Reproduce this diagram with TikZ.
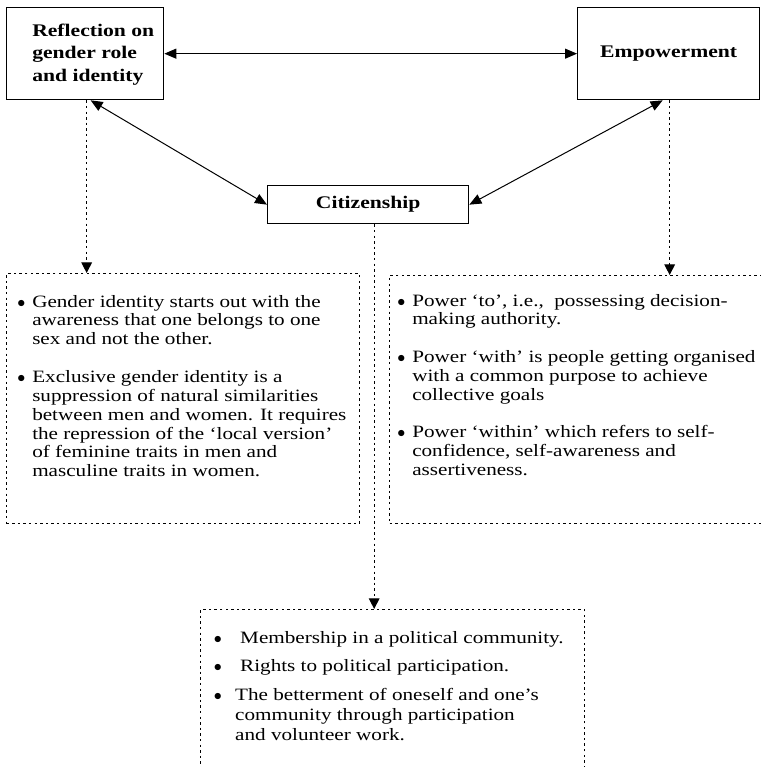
\documentclass[tikz,border=0pt]{standalone}
\usepackage{fontspec}
\setmainfont[FakeStretch=1.22]{Liberation Serif}
\usetikzlibrary{arrows.meta,calc}
\newcommand{\bul}{$\bullet$}
\begin{document}
\begin{tikzpicture}[x=0.75pt,y=-0.75pt,
  solidbox/.style={draw=black, line width=1pt, inner sep=0pt},
  dotbox/.style={draw=black, line width=0.85pt, dash pattern=on 1.8pt off 2.4pt, inner sep=0pt},
  arr/.style={line width=0.75pt, {Triangle[length=9pt,width=7.5pt]}-{Triangle[length=9pt,width=7.5pt]}},
  dotarr/.style={line width=0.85pt, dash pattern=on 1.8pt off 2.4pt, -{Triangle[length=8pt,width=8pt]}},
  title/.style={font=\fontsize{13.3}{16.5}\selectfont\bfseries, inner sep=0pt},
  body/.style={font=\fontsize{13}{14.2}\selectfont, inner sep=0pt, anchor=base west}
]
\useasboundingbox (0,0) rectangle (760,767);

% top boxes
\node[solidbox, minimum width=117.75pt, minimum height=69pt, anchor=north west] (refl) at (6,7) {};
\node[title, anchor=base west] (refltxt) at (32,37)
  {\begin{tabular}[t]{@{}l@{}}Reflection on\\gender role\\and identity\end{tabular}};
\node[solidbox, title, minimum width=136.5pt, minimum height=69pt, anchor=north west] (emp) at (577,7) {Empowerment};
\node[solidbox, title, minimum width=150.75pt, minimum height=28.5pt, anchor=north west] (cit) at (267,185) {Citizenship};

% dotted boxes
\node[dotbox, minimum width=264.75pt, minimum height=187.5pt, anchor=north west] (lbox) at (6,273) {};
\node[dotbox, minimum width=282pt, minimum height=186pt, anchor=north west] (rbox) at (389,275) {};
\node[dotbox, minimum width=288pt, minimum height=125pt, anchor=north west] (bbox) at (200,609) {};

% texts
\node[body] (ltxt) at (17,307)
 {\begin{tabular}[t]{@{}p{11.25pt}@{}l@{}}
  \bul & Gender identity starts out with the\\
   & awareness that one belongs to one\\
   & sex and not the other.\\[13.8pt]
  \bul & Exclusive gender identity is a\\
   & suppression of natural similarities\\
   & between men and women. It requires\\
   & the repression of the ‘local version’\\
   & of feminine traits in men and\\
   & masculine traits in women.
 \end{tabular}};

\node[body] (rtxt) at (397,306)
 {\begin{tabular}[t]{@{}p{11.25pt}@{}l@{}}
  \bul & Power ‘to’, i.e.,\ \ possessing decision-\\
   & making authority.\\[13.8pt]
  \bul & Power ‘with’ is people getting organised\\
   & with a common purpose to achieve\\
   & collective goals\\[13.8pt]
  \bul & Power ‘within’ which refers to self-\\
   & confidence, self-awareness and\\
   & assertiveness.
 \end{tabular}};

\node[body] (btxt) at (213.5,643)
 {\fontsize{13}{15}\selectfont\begin{tabular}[t]{@{}p{16.1pt}@{}l@{}}
  \bul & \hspace{3.75pt}Membership in a political community.\\[6.4pt]
  \bul & \hspace{3.75pt}Rights to political participation.\\[6.4pt]
  \bul & The betterment of oneself and one’s\\
   & community through participation\\
   & and volunteer work.
 \end{tabular}};

% solid connectors
\draw[arr] (refl.east) -- (emp.west);
\coordinate (rdiag) at ($(refl.south)+(5.5,0)$);
\coordinate (ediag) at ($(emp.south)+(-6,0)$);
\draw[arr] (rdiag) -- (cit.west);
\draw[arr] (ediag) -- (cit.east);

% dotted connectors
\coordinate (rdot) at ($(refl.south)+(1.5,0)$);
\coordinate (edot) at ($(emp.south)+(1,0)$);
\coordinate (cdot) at ($(cit.south)+(6,0)$);
\draw[dotarr] (rdot) -- (rdot |- lbox.north);
\draw[dotarr] (edot) -- (edot |- rbox.north);
\draw[dotarr] (cdot) -- (cdot |- bbox.north);
\end{tikzpicture}
\end{document}
